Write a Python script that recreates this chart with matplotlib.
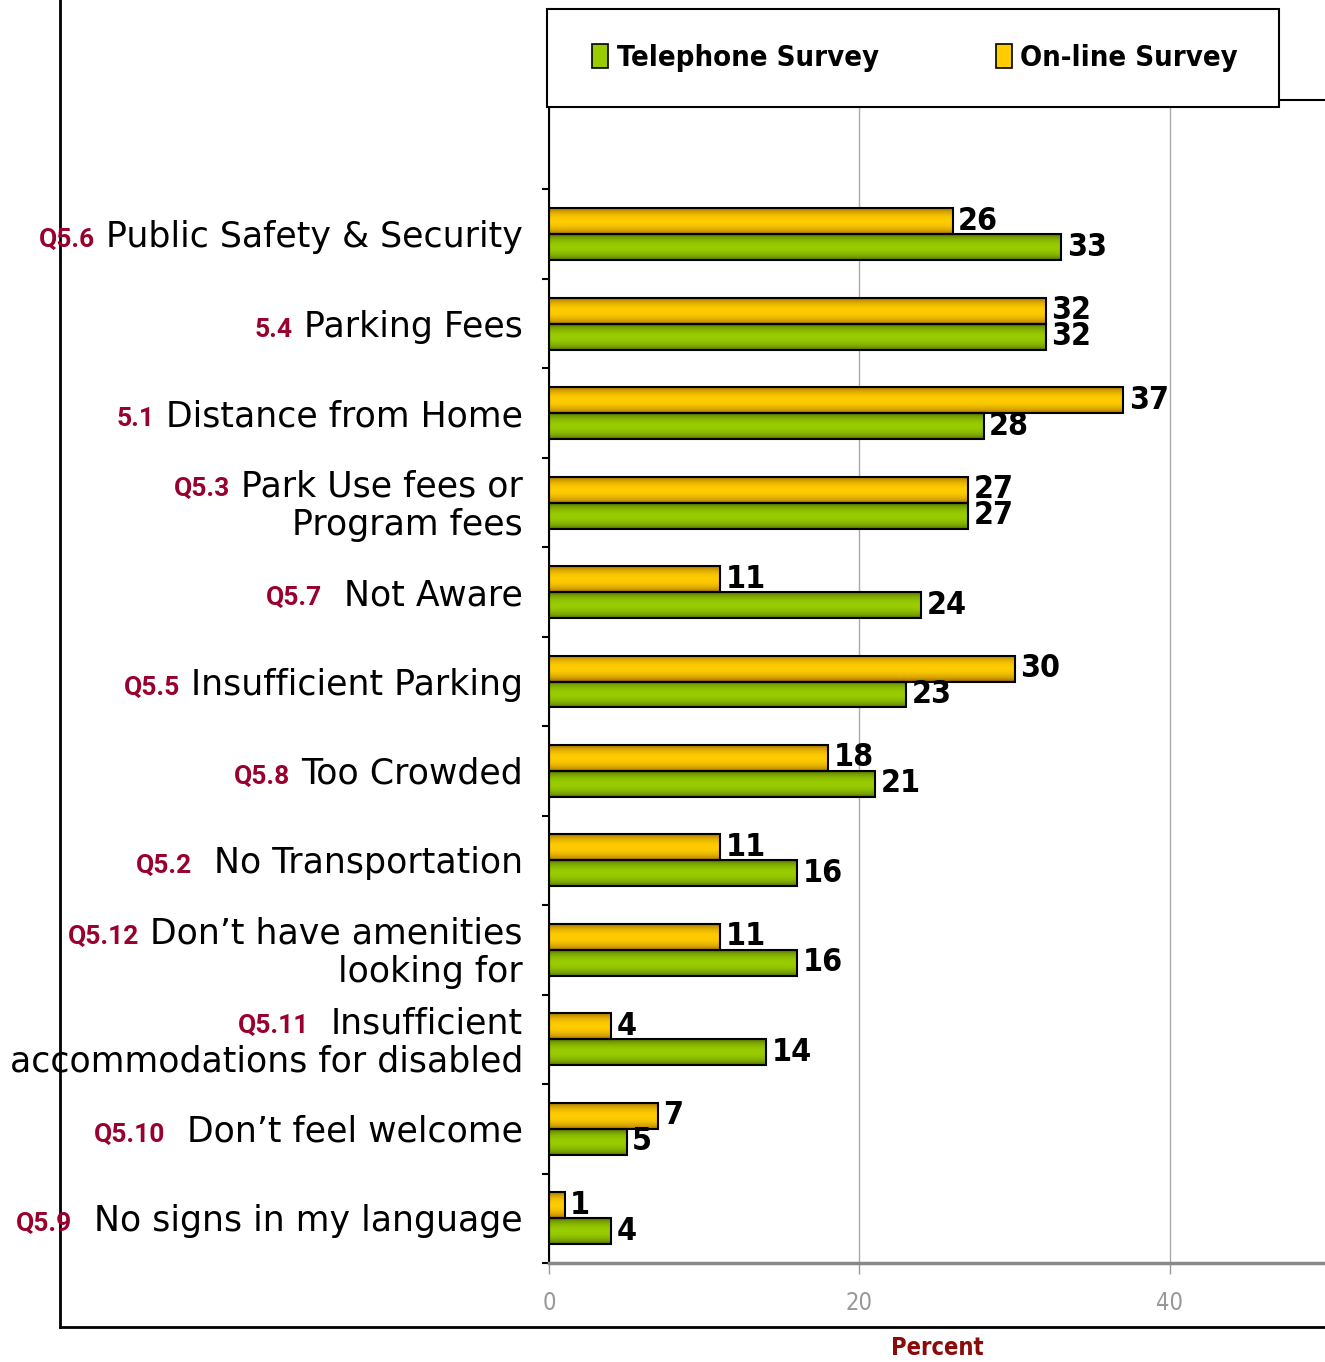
import re
import numpy as np
import matplotlib
matplotlib.use("Agg")
import matplotlib.pyplot as plt
from matplotlib import font_manager as fm
from matplotlib.patches import Patch, Rectangle
from matplotlib.lines import Line2D
from matplotlib.transforms import IdentityTransform

# data, top to bottom
labels = [
    "Q5.6 Public Safety & Security",
    "5.4 Parking Fees",
    "5.1 Distance from Home",
    "Q5.3 Park Use fees or\nProgram fees",
    "Q5.7  Not Aware",
    "Q5.5 Insufficient Parking",
    "Q5.8 Too Crowded",
    "Q5.2  No Transportation",
    "Q5.12 Don\u2019t have amenities\nlooking for",
    "Q5.11  Insufficient\naccommodations for disabled",
    "Q5.10  Don\u2019t feel welcome",
    "Q5.9  No signs in my language",
]
telephone = [33, 32, 28, 27, 24, 23, 21, 16, 16, 14, 5, 4]
online = [26, 32, 37, 27, 11, 30, 18, 11, 11, 4, 7, 1]
xticks = [0, 20, 40]


def pick_font(keys, fallback):
    files = [f.fname for f in fm.fontManager.ttflist]
    for key in keys:
        for fn in files:
            if fn.endswith(key):
                return fn
    return fm.findfont(fallback)


narrow_bold = pick_font(["LiberationSansNarrow-Bold.ttf", "DejaVuSansCondensed-Bold.ttf"],
                        fm.FontProperties(family="DejaVu Sans", weight="bold"))
narrow_reg = pick_font(["LiberationSansNarrow-Regular.ttf", "DejaVuSansCondensed.ttf"],
                       fm.FontProperties(family="DejaVu Sans"))


def nb(size):
    return fm.FontProperties(fname=narrow_bold, size=size)


def nr(size):
    return fm.FontProperties(fname=narrow_reg, size=size)


W, H = 1325, 1362
green_edge, green_mid = np.array([0x4a, 0x66, 0x00]) / 255, np.array([0x99, 0xcc, 0x00]) / 255
gold_edge, gold_mid = np.array([0x99, 0x66, 0x00]) / 255, np.array([0xff, 0xcc, 0x00]) / 255
red = "#99002e"


def shade(ax, patch, edge, mid):
    t = np.linspace(0, 1, 64)
    k = np.sin(np.pi * t) ** 0.6
    cols = edge[None, :] * (1 - k[:, None]) + mid[None, :] * k[:, None]
    x0, y0 = patch.get_x(), patch.get_y()
    w, h = patch.get_width(), patch.get_height()
    im = ax.imshow(cols[:, None, :], extent=(x0, x0 + w, y0 + h, y0),
                   aspect="auto", interpolation="bilinear", zorder=2)
    im.set_clip_path(patch)


fig = plt.figure(figsize=(W / 100, H / 100), dpi=100)
ax = fig.add_axes([549 / W, (H - 1263) / H, 1 - 549 / W, (1263 - 100) / H])

y = np.arange(len(labels))
bh = 0.29
tel = ax.barh(y + bh / 2, telephone, height=bh, facecolor="none",
              edgecolor="black", lw=1.5, zorder=3)
onl = ax.barh(y - bh / 2, online, height=bh, facecolor="none",
              edgecolor="black", lw=1.5, zorder=3)
for p in tel:
    shade(ax, p, green_edge, green_mid)
for p in onl:
    shade(ax, p, gold_edge, gold_mid)

for bars in (tel, onl):
    ax.bar_label(bars, padding=4, fontproperties=nb(23))

ax.set_xlim(0, 50)
ax.set_ylim(11.5, -1.5)
ax.set_xticks(xticks)
ax.tick_params(axis="x", colors="#999999", length=8, width=1, pad=12)
for lb in ax.get_xticklabels():
    lb.set_fontproperties(nr(17))
ax.grid(axis="x", color="#aaaaaa", lw=1)
ax.set_axisbelow(True)
ax.set_yticks(np.arange(-0.5, 12, 1))
ax.set_yticklabels([])
ax.tick_params(axis="y", length=5, width=1.5, color="black")

ax.spines["right"].set_visible(False)
ax.spines["left"].set_linewidth(1.5)
ax.spines["top"].set_linewidth(1.5)
ax.spines["bottom"].set_color("#888888")
ax.spines["bottom"].set_linewidth(2.5)

fig.text(937 / W, 1 - 1348 / H, "Percent", ha="center", va="center",
         fontproperties=nb(17), color="#8b0a0a")

# category labels: red bold prefix + black text
renderer = fig.canvas.get_renderer()
lh = 38.5
for i, lab in enumerate(labels):
    pre, sp, rest = re.match(r"(\S+)(\s+)(.*)", lab, re.S).groups()
    lines = rest.split("\n")
    yc = ax.transData.transform((0, i))[1]
    first = None
    for k, line in enumerate(lines):
        yy = yc + ((len(lines) - 1) / 2 - k) * lh - 13
        t = fig.text(523, yy, line, transform=IdentityTransform(), ha="right",
                     va="baseline", fontsize=25, family="DejaVu Sans", color="black")
        if first is None:
            first = (t, yy)
    ext = first[0].get_window_extent(renderer)
    fig.text(ext.x0 - 11 * len(sp), first[1], pre, transform=IdentityTransform(),
             ha="right", va="baseline", fontsize=19, fontweight="bold",
             family=["Roboto", "DejaVu Sans"], color=red)

# legend box
box = Rectangle((547 / W, 1 - 107 / H), (1279 - 547) / W, (107 - 9) / H,
                transform=fig.transFigure, facecolor="white", edgecolor="black",
                lw=1.5, zorder=5)
fig.add_artist(box)
handles = [Patch(facecolor=green_mid, edgecolor="black", lw=1.2),
           Patch(facecolor=gold_mid, edgecolor="black", lw=1.2)]
leg = fig.legend(handles, ["Telephone Survey", "On-line Survey"], ncol=2,
                 loc="center", bbox_to_anchor=(915 / W, 1 - 58 / H),
                 frameon=False, prop=nb(21),
                 handlelength=0.55, handleheight=0.9, handletextpad=0.3,
                 columnspacing=4.0)
leg.set_zorder(6)

# outer frame
fig.add_artist(Line2D([60 / W, 60 / W], [(H - 1327) / H, 1], color="black", lw=2,
                      transform=fig.transFigure))
fig.add_artist(Line2D([60 / W, 1], [(H - 1327) / H, (H - 1327) / H], color="black",
                      lw=2, transform=fig.transFigure))

fig.savefig("out.png", dpi=100)
